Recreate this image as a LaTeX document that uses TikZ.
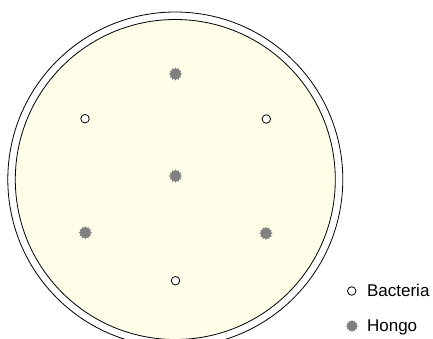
\documentclass[tikz,border=0pt]{standalone}
\usepackage{fontspec}
\setmainfont{Liberation Sans}
\usetikzlibrary{shapes.geometric}

\begin{document}
\begin{tikzpicture}[x=1pt, y=-1pt, line width=0.8pt,
    bacteria/.style={draw, circle, fill=white, inner sep=0pt, minimum size=8.5pt},
    hongo/.style={star, star points=12, star point ratio=1.3, fill=hongogris, inner sep=0pt, minimum size=13pt},
    leyenda/.style={anchor=base west, inner sep=0pt, font=\fontsize{17}{20}\selectfont}]
        % Colores
        \definecolor{agar}{RGB}{254, 253, 232}
        \definecolor{hongogris}{RGB}{128, 128, 128}

        \useasboundingbox (0,0) rectangle (433,338);
        \clip (0,0) rectangle (433,338);

        % Placa de Petri
        \node[draw, circle, fill=white, inner sep=0pt, minimum size=335pt] (placa) at (175.3,179.5) {};
        \node[draw, circle, fill=agar, inner sep=0pt, minimum size=320pt] (agar) at (placa.center) {};

        % Colonias
        \node[hongo] (h1) at (175.5,74) {};
        \node[hongo] (h2) at (175.5,176) {};
        \node[hongo] (h3) at (85.3,232.7) {};
        \node[hongo] (h4) at (266,233.3) {};
        \node[bacteria] (b1) at (85,118.7) {};
        \node[bacteria] (b2) at (266.3,119) {};
        \node[bacteria] (b3) at (175.5,280.7) {};

        % Leyenda
        \node[bacteria] (lb) at (351.7,291) {};
        \node[leyenda] (tb) at (366.7,296.7) {Bacteria};
        \node[hongo, minimum size=12pt] (lh) at (352,326) {};
        \node[leyenda] (th) at (366.7,331.7) {Hongo};

\end{tikzpicture}
\end{document}
